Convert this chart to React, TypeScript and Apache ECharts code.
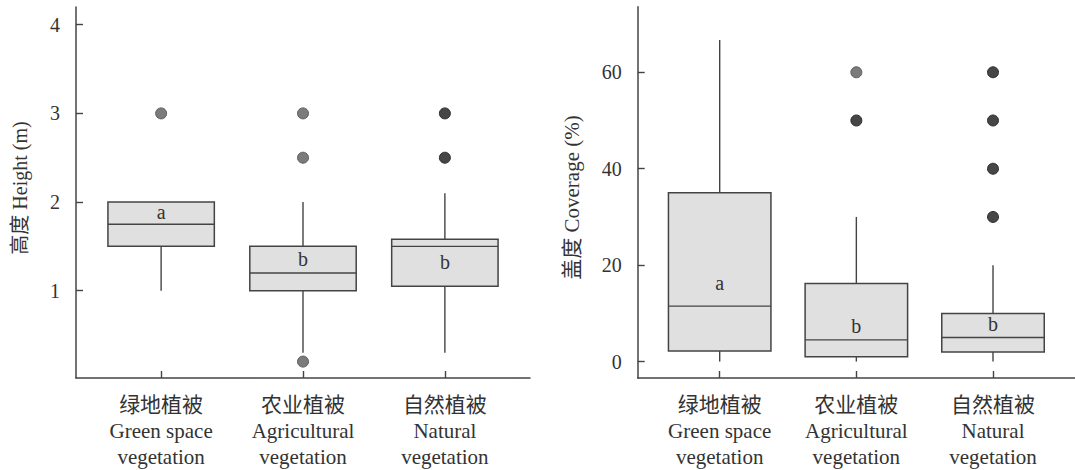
import React, { useEffect, useRef } from "react";
import * as echarts from "echarts";

const categories = [
  "绿地植被\nGreen space\nvegetation",
  "农业植被\nAgricultural\nvegetation",
  "自然植被\nNatural\nvegetation",
];
const categoryPos = [1, 2, 3];

// Height (m)
const heightLow = [1.0, 0.3, 0.3];
const heightQ1 = [1.5, 1.0, 1.05];
const heightMedian = [1.75, 1.2, 1.5];
const heightQ3 = [2.0, 1.5, 1.58];
const heightHigh = [2.0, 2.0, 2.1];
const heightOutliersGray = [
  [1, 3.0],
  [2, 3.0],
  [2, 2.5],
  [2, 0.2],
];
const heightOutliersDark = [
  [3, 3.0],
  [3, 2.5],
];
const heightLetters = ["a", "b", "b"];
const heightLetterY = [1.89, 1.36, 1.32];
const heightTicks = [1, 2, 3, 4];

// Coverage (%)
const coverLow = [0, 0, 0];
const coverQ1 = [2.2, 1.0, 2.0];
const coverMedian = [11.5, 4.5, 5.0];
const coverQ3 = [35, 16.2, 10];
const coverHigh = [66.7, 30, 20];
const coverOutliersGray = [[2, 60]];
const coverOutliersDark = [
  [2, 50],
  [3, 60],
  [3, 50],
  [3, 40],
  [3, 30],
];
const coverLetters = ["a", "b", "b"];
const coverLetterY = [16.3, 7.3, 7.85];
const coverTicks = [0, 20, 40, 60];

const FONT = "'Liberation Serif', 'Noto Sans CJK SC', serif";
const INK = "#333";
const LINE = "#444";
const BOX_FILL = "#e0e0e1";
const BOX_W = 0.75;

function boxData(low: number[], q1: number[], med: number[], q3: number[], high: number[]) {
  return categoryPos.map((x, i) => [x, low[i], q1[i], med[i], q3[i], high[i]]);
}

function letterData(y: number[], letters: string[]) {
  return categoryPos.map((x, i) => [x, y[i], letters[i]]);
}

const renderBox = (params: any, api: any) => {
  const x = api.value(0);
  const low = api.value(1);
  const q1 = api.value(2);
  const med = api.value(3);
  const q3 = api.value(4);
  const high = api.value(5);
  const cx = api.coord([x, med])[0];
  const yLow = api.coord([x, low])[1];
  const yQ1 = api.coord([x, q1])[1];
  const yMed = api.coord([x, med])[1];
  const yQ3 = api.coord([x, q3])[1];
  const yHigh = api.coord([x, high])[1];
  const w = api.size([BOX_W, 0])[0];
  const children: any[] = [];
  const ls = { stroke: LINE, lineWidth: 1.4 };
  if (high > q3) {
    children.push({ type: "line", shape: { x1: cx, y1: yHigh, x2: cx, y2: yQ3 }, style: ls });
  }
  if (low < q1) {
    children.push({ type: "line", shape: { x1: cx, y1: yQ1, x2: cx, y2: yLow }, style: ls });
  }
  children.push({
    type: "rect",
    shape: { x: cx - w / 2, y: yQ3, width: w, height: yQ1 - yQ3 },
    style: { fill: BOX_FILL, stroke: LINE, lineWidth: 1.5 },
  });
  children.push({
    type: "line",
    shape: { x1: cx - w / 2, y1: yMed, x2: cx + w / 2, y2: yMed },
    style: { stroke: LINE, lineWidth: 1.4 },
  });
  return { type: "group", children };
};

const renderLetter = (params: any, api: any) => {
  const p = api.coord([api.value(0), api.value(1)]);
  return {
    type: "text",
    x: p[0],
    y: p[1],
    style: {
      text: String(api.value(2)),
      align: "center",
      verticalAlign: "middle",
      fontSize: 20,
      fontFamily: FONT,
      fill: INK,
    },
  };
};

function xAxisCfg(gridIndex: number) {
  return {
    type: "value",
    gridIndex,
    min: 0.4,
    max: 3.6,
    axisLine: { show: true, onZero: false, lineStyle: { color: LINE, width: 1.5 } },
    axisTick: { show: true, inside: true, length: 7, customValues: categoryPos, lineStyle: { color: LINE, width: 1.4 } },
    axisLabel: {
      show: true,
      customValues: categoryPos,
      formatter: (v: number) => categories[Math.round(v) - 1] || "",
      fontSize: 21,
      lineHeight: 26,
      margin: 14,
      color: INK,
      fontFamily: FONT,
    },
    splitLine: { show: false },
  };
}

function yAxisCfg(gridIndex: number, min: number, max: number, ticks: number[]) {
  return {
    type: "value",
    gridIndex,
    min,
    max,
    axisLine: { show: true, onZero: false, lineStyle: { color: LINE, width: 1.5 } },
    axisTick: { show: true, inside: true, length: 7, customValues: ticks, lineStyle: { color: LINE, width: 1.4 } },
    axisLabel: {
      show: true,
      customValues: ticks,
      fontSize: 20,
      margin: 16,
      color: INK,
      fontFamily: FONT,
    },
    splitLine: { show: false },
  };
}

function outlierSeries(data: number[][], axis: number, fill: string, border: string) {
  return {
    type: "scatter",
    xAxisIndex: axis,
    yAxisIndex: axis,
    data,
    symbol: "circle",
    symbolSize: 11,
    itemStyle: { color: fill, borderColor: border, borderWidth: 1, opacity: 1 },
    z: 5,
  };
}

export default function App() {
  const ref = useRef<HTMLDivElement>(null);
  useEffect(() => {
    if (!ref.current) return;
    const chart = echarts.init(ref.current, undefined, { renderer: "svg" });
    const option: any = {
      animation: false,
      backgroundColor: "#ffffff",
      textStyle: { fontFamily: FONT },
      grid: [
        { left: 76, top: 7, width: 454, height: 371.3, containLabel: false },
        { left: 637.7, top: 6.7, width: 444.8, height: 371.6, containLabel: false },
      ],
      xAxis: [xAxisCfg(0), xAxisCfg(1)],
      yAxis: [
        yAxisCfg(0, 0.015, 4.2, heightTicks),
        yAxisCfg(1, -3.4, 73.6, coverTicks),
      ],
      graphic: [
        {
          type: "text",
          x: 20,
          y: 188,
          rotation: Math.PI / 2,
          style: {
            text: "高度 Height (m)",
            align: "center",
            verticalAlign: "middle",
            fontSize: 20,
            fontFamily: FONT,
            fill: INK,
          },
        },
        {
          type: "text",
          x: 572,
          y: 197.5,
          rotation: Math.PI / 2,
          style: {
            text: "盖度 Coverage (%)",
            align: "center",
            verticalAlign: "middle",
            fontSize: 21,
            fontFamily: FONT,
            fill: INK,
          },
        },
      ],
      series: [
        {
          type: "custom",
          xAxisIndex: 0,
          yAxisIndex: 0,
          renderItem: renderBox,
          encode: { x: 0, y: [1, 2, 3, 4, 5] },
          data: boxData(heightLow, heightQ1, heightMedian, heightQ3, heightHigh),
          clip: false,
          z: 2,
        },
        {
          type: "custom",
          xAxisIndex: 1,
          yAxisIndex: 1,
          renderItem: renderBox,
          encode: { x: 0, y: [1, 2, 3, 4, 5] },
          data: boxData(coverLow, coverQ1, coverMedian, coverQ3, coverHigh),
          clip: false,
          z: 2,
        },
        outlierSeries(heightOutliersGray, 0, "#7b7b7b", "#5e5e5e"),
        outlierSeries(heightOutliersDark, 0, "#464646", "#2e2e2e"),
        outlierSeries(coverOutliersGray, 1, "#7b7b7b", "#5e5e5e"),
        outlierSeries(coverOutliersDark, 1, "#464646", "#2e2e2e"),
        {
          type: "custom",
          xAxisIndex: 0,
          yAxisIndex: 0,
          renderItem: renderLetter,
          encode: { x: 0, y: 1 },
          data: letterData(heightLetterY, heightLetters),
          z: 6,
        },
        {
          type: "custom",
          xAxisIndex: 1,
          yAxisIndex: 1,
          renderItem: renderLetter,
          encode: { x: 0, y: 1 },
          data: letterData(coverLetterY, coverLetters),
          z: 6,
        },
      ],
    };
    chart.setOption(option);
    return () => chart.dispose();
  }, []);
  return (
    <div
      ref={ref}
      style={{ position: "absolute", left: 0, top: 0, width: 1075, height: 470, background: "#fff" }}
    />
  );
}
